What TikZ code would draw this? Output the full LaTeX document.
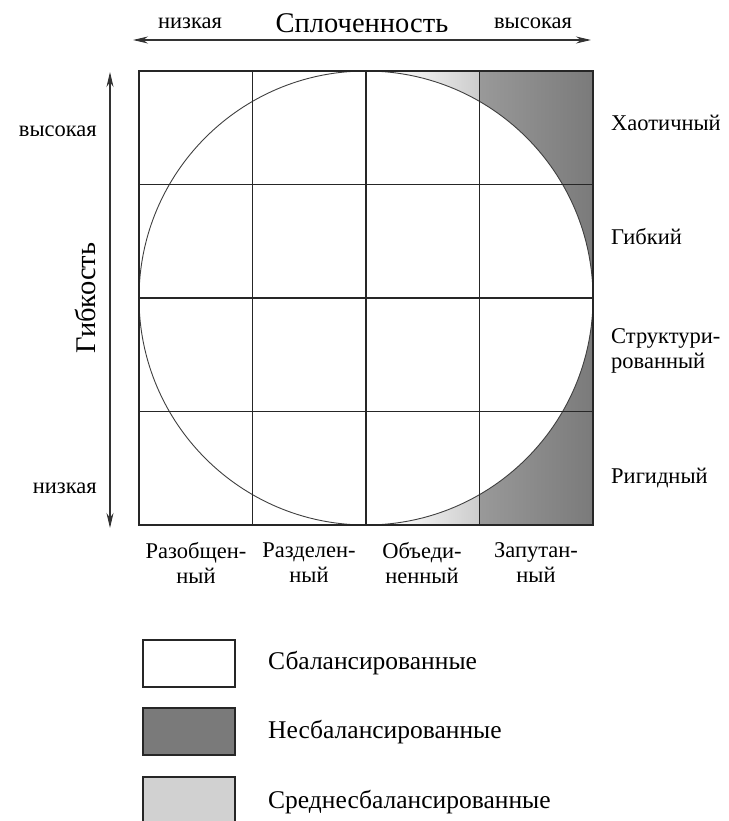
\documentclass[tikz,border=0pt]{standalone}
\usepackage{fontspec}
\setmainfont{Liberation Serif}
\usetikzlibrary{arrows.meta}
\tikzset{
  grid line/.style={line width=1.9pt, draw=black!85},
  outer line/.style={line width=2.3pt, draw=black!85},
  axis arrow/.style={line width=1.1pt, draw=black!80, {Stealth[length=15pt,width=7pt]}-{Stealth[length=15pt,width=7pt]}},
  big label/.style={font=\fontsize{28.5}{31}\selectfont, inner sep=0pt},
  small label/.style={font=\fontsize{22.5}{25}\selectfont, inner sep=0pt},
  col label/.style={font=\fontsize{22.5}{25}\selectfont, inner sep=0pt, align=center},
  legend text/.style={font=\fontsize{25.5}{28}\selectfont, inner sep=0pt, anchor=west},
  legend box/.style={line width=1.8pt, draw=black!85},
}
\begin{document}
\begin{tikzpicture}[x=1pt,y=-1pt]
\useasboundingbox[fill=white] (0,0) rectangle (728,821);
% shading outside circle
\begin{scope}[even odd rule]
  \clip (139,71) rectangle (593,525) (366,298) circle[radius=227pt];
  \shade[left color=white, right color=black!20] (385,71) rectangle (479.5,525);
  \shade[left color=black!40, right color=black!52] (479.5,71) rectangle (593,525);
\end{scope}
% circle
\draw[line width=0.9pt, draw=black!75] (366,298) circle[radius=227pt];
% grid
\foreach \x in {252.5,366,479.5} \draw[grid line] (\x,71) -- (\x,525);
\foreach \y in {184.5,298,411.5} \draw[grid line] (139,\y) -- (593,\y);
\draw[outer line] (139,71) rectangle (593,525);
% axes
\coordinate (hl) at (133,40);
\coordinate (hr) at (591,40);
\coordinate (vt) at (110,72);
\coordinate (vb) at (110,528);
\draw[axis arrow] (hl) -- (hr);
\draw[axis arrow] (vt) -- (vb);
\node[big label] (coh) at (362,23) {Сплоченность};
\node[small label] (cohlow) at (190,23) {низкая};
\node[small label] (cohhigh) at (533,23) {высокая};
\node[big label, rotate=90] (flex) at (85,298) {Гибкость};
\node[small label, anchor=east] (flexhigh) at (97,131) {высокая};
\node[small label, anchor=east] (flexlow) at (97,488) {низкая};
% right labels
\node[small label, anchor=west] (r1) at (611,123) {Хаотичный};
\node[small label, anchor=west] (r2) at (611,237) {Гибкий};
\node[small label, anchor=west, align=left] (r3) at (611,351) {Структури-\\рованный};
\node[small label, anchor=west] (r4) at (611,478) {Ригидный};
% column labels
\node[col label] (c1) at (196,563) {Разобщен-\\ный};
\node[col label] (c2) at (309,563) {Разделен-\\ный};
\node[col label] (c3) at (422,563) {Объеди-\\ненный};
\node[col label] (c4) at (536,563) {Запутан-\\ный};
% legend
\draw[legend box, fill=white] (143,640) rectangle (235,687);
\draw[legend box, fill=black!52] (143,708) rectangle (235,755);
\draw[legend box, fill=black!18] (143,777) rectangle (235,830);
\node[legend text] (l1) at (268,663) {Сбалансированные};
\node[legend text] (l2) at (268,732) {Несбалансированные};
\node[legend text] (l3) at (268,802) {Среднесбалансированные};
\end{tikzpicture}
\end{document}
